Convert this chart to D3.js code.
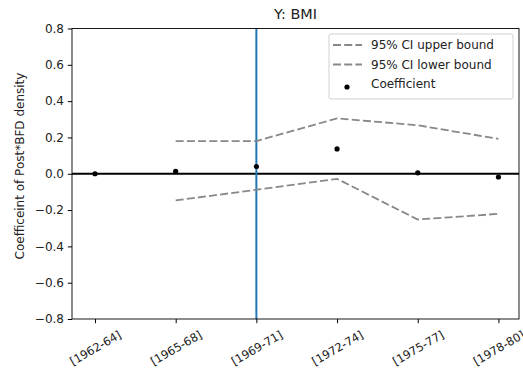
<!DOCTYPE html>
<html>
<head>
<meta charset="utf-8">
<script src="https://cdn.jsdelivr.net/npm/d3@7"></script>
<style>
  body { margin: 0; background: #fff; }
  text { font-family: "DejaVu Sans", sans-serif; }
</style>
</head>
<body>
<div id="chart"></div>
<script>
// data
const categories = ["[1962-64]", "[1965-68]", "[1969-71]", "[1972-74]", "[1975-77]", "[1978-80]"];
const coefficient = [0.0, 0.013, 0.04, 0.137, 0.005, -0.018];
const upperBound = [null, 0.18, 0.18, 0.305, 0.267, 0.192];
const lowerBound = [null, -0.147, -0.088, -0.028, -0.252, -0.221];
const yTicks = [-0.8, -0.6, -0.4, -0.2, 0.0, 0.2, 0.4, 0.6, 0.8];
const markedCategory = 2;

const W = 523, H = 377;
const margin = { top: 28.5, right: 4, bottom: 58, left: 72 };
const dash = "8,3.2";

const svg = d3.select("#chart").append("svg")
    .attr("width", W).attr("height", H);

const x = d3.scaleLinear().domain([-0.285, 5.255]).range([margin.left, W - margin.right]);
const y = d3.scaleLinear().domain([-0.8, 0.8]).range([H - margin.bottom, margin.top]);

const fmt = v => d3.format(".1f")(v).replace("-", "\u2212");

// horizontal zero line
svg.append("line")
    .attr("x1", x.range()[0]).attr("x2", x.range()[1])
    .attr("y1", y(0)).attr("y2", y(0))
    .attr("stroke", "#000").attr("stroke-width", 1.8);

// vertical marker
svg.append("line")
    .attr("x1", x(markedCategory)).attr("x2", x(markedCategory))
    .attr("y1", y.range()[0]).attr("y2", y.range()[1])
    .attr("stroke", "#1f77b4").attr("stroke-width", 2);

// CI lines
const line = d3.line()
    .defined(d => d != null)
    .x((d, i) => x(i))
    .y(d => y(d));

[upperBound, lowerBound].forEach(s => {
    svg.append("path")
        .datum(s)
        .attr("fill", "none")
        .attr("stroke", "#888")
        .attr("stroke-width", 1.8)
        .attr("stroke-dasharray", dash)
        .attr("d", line);
});

// coefficients
svg.selectAll("circle.coef")
    .data(coefficient)
    .enter().append("circle")
    .attr("class", "coef")
    .attr("cx", (d, i) => x(i))
    .attr("cy", d => y(d))
    .attr("r", 2.6)
    .attr("fill", "#000");

// axes
const xAxis = svg.append("g")
    .attr("transform", `translate(0,${y.range()[0]})`)
    .call(d3.axisBottom(x).tickValues(d3.range(categories.length))
        .tickFormat(i => categories[i]).tickSize(4.2).tickSizeOuter(0));
xAxis.select(".domain").remove();
xAxis.selectAll(".tick text")
    .attr("font-size", 11.5)
    .attr("fill", "#222")
    .attr("text-anchor", "middle")
    .attr("y", 0).attr("dy", 0)
    .attr("dominant-baseline", "central")
    .attr("transform", "translate(0,29) rotate(-30)");

const yAxis = svg.append("g")
    .attr("transform", `translate(${x.range()[0]},0)`)
    .call(d3.axisLeft(y).tickValues(yTicks).tickFormat(fmt).tickSize(4.2).tickSizeOuter(0));
yAxis.select(".domain").remove();
yAxis.selectAll("text").attr("font-size", 12).attr("fill", "#222").attr("x", -8);

// frame
svg.append("rect")
    .attr("x", x.range()[0]).attr("y", y.range()[1])
    .attr("width", x.range()[1] - x.range()[0])
    .attr("height", y.range()[0] - y.range()[1])
    .attr("fill", "none").attr("stroke", "#000").attr("stroke-width", 0.9);

// title and label
svg.append("text")
    .attr("x", (x.range()[0] + x.range()[1]) / 2).attr("y", 19)
    .attr("text-anchor", "middle").attr("font-size", 14.4)
    .attr("fill", "#222")
    .text("Y: BMI");

svg.append("text")
    .attr("transform", `translate(24,166) rotate(-90)`)
    .attr("text-anchor", "middle").attr("font-size", 12)
    .attr("fill", "#222")
    .text("Coefficeint of Post*BFD density");

// legend
const legend = svg.append("g").attr("transform", "translate(329,34)");
legend.append("rect")
    .attr("width", 184).attr("height", 65).attr("rx", 2)
    .attr("fill", "#fff").attr("stroke", "#ccc").attr("stroke-width", 0.9);

const legendItems = [
    { label: "95% CI upper bound", kind: "line" },
    { label: "95% CI lower bound", kind: "line" },
    { label: "Coefficient", kind: "dot" }
];
legendItems.forEach((it, i) => {
    const g = legend.append("g").attr("transform", `translate(0,${11 + i * 19.5})`);
    if (it.kind === "line") {
        g.append("line")
            .attr("x1", 4).attr("x2", 33).attr("y1", 0).attr("y2", 0)
            .attr("stroke", "#888").attr("stroke-width", 1.8)
            .attr("stroke-dasharray", dash);
    } else {
        g.append("circle").attr("cx", 18).attr("cy", 3).attr("r", 2.6).attr("fill", "#000");
    }
    g.append("text")
        .attr("x", 42).attr("y", 0).attr("dy", "0.35em")
        .attr("font-size", 12).attr("fill", "#222")
        .text(it.label);
});
</script>
</body>
</html>
